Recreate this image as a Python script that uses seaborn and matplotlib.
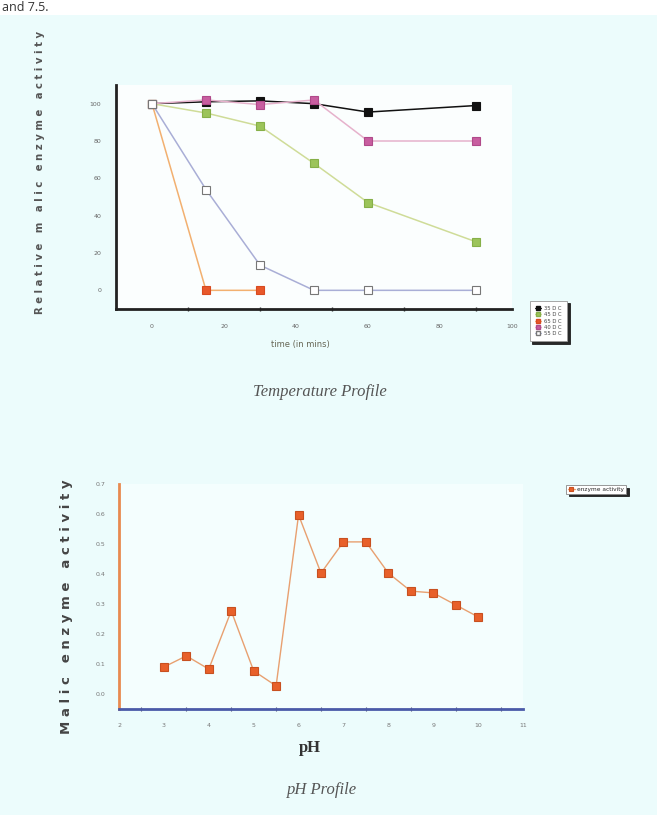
import numpy as np
import pandas as pd
import matplotlib
matplotlib.use("Agg")
import matplotlib.pyplot as plt
import seaborn as sns
from matplotlib.lines import Line2D

# ---------------- data ----------------
time_min = [0, 15, 30, 45, 60, 90]
series_labels = ["35 D C", "45 D C", "65 D C", "40 D C", "55 D C"]
act_black = [100, 101, 101.5, 100, 95.5, 99]
act_green = [100, 95, 88, 68, 47, 26]
act_orange = [100, 0, 0]
act_pink = [100, 102, 99.5, 102, 80, 80]
act_open = [100, 54, 13.5, 0, 0, 0]

ph_values = [3, 3.5, 4, 4.5, 5, 5.5, 6, 6.5, 7, 7.5, 8, 8.5, 9, 9.5, 10]
ph_activity = [0.09, 0.127, 0.083, 0.277, 0.077, 0.027, 0.597, 0.403,
               0.507, 0.507, 0.403, 0.343, 0.337, 0.297, 0.257]

temp_xticks = [0, 20, 40, 60, 80, 100]
temp_yticks = [0, 20, 40, 60, 80, 100]
ph_xticks = [2, 3, 4, 5, 6, 7, 8, 9, 10, 11]
ph_yticks = [0.0, 0.1, 0.2, 0.3, 0.4, 0.5, 0.6, 0.7]

# ---------------- figure ----------------
sns.set_theme(style="white")
plt.rcParams['font.family'] = ['DejaVu Sans']
W, H = 657, 815
fig = plt.figure(figsize=(W / 100, H / 100), dpi=100)
bg = "#ecfcfc"
fig.patch.set_facecolor(bg)

# white strip at the top with document text
fig.patches.append(plt.Rectangle((0, 1 - 15 / H), 1, 15 / H, transform=fig.transFigure,
                                 facecolor="white", edgecolor="none", zorder=0))
fig.text(2 / W, 1 - 1 / H, "and 7.5.", fontsize=9, family="Open Sans",
         color="#333333", va="top", ha="left")


def fx(px):
    return px / W


def fy(py):
    return 1 - py / H


# ---------------- top: temperature profile ----------------
ax1 = fig.add_axes([fx(116), fy(309), fx(512) - fx(116), fy(85) - fy(309)])
ax1.set_facecolor("#fbfefe")

styles = [
    (act_black, "#111111", "#111111", "#111111", series_labels[0]),
    (act_green, "#cfdc98", "#9cc45a", "#86b048", series_labels[1]),
    (act_orange, "#f2b070", "#e8582a", "#d84a20", series_labels[2]),
    (act_pink, "#e6b2cc", "#c85ea0", "#b04a8a", series_labels[3]),
    (act_open, "#a9aed6", "#ffffff", "#777777", series_labels[4]),
]
order = [2, 4, 1, 3, 0]
for i in order:
    vals, lc, fc, ec, lab = styles[i]
    df = pd.DataFrame({"time": time_min[:len(vals)], "act": vals})
    sns.lineplot(data=df, x="time", y="act", ax=ax1, color=lc, lw=1.1,
                 marker="s", markersize=6, markerfacecolor=fc,
                 markeredgecolor=ec, markeredgewidth=0.8, zorder=3 + i)

ax1.set_xlim(-10, 100)
ax1.set_ylim(-10, 110)
ax1.set_xticks(temp_xticks)
ax1.set_xticks([10, 30, 50, 70, 90], minor=True)
ax1.set_yticks(temp_yticks)
ax1.set_xticklabels([str(v) for v in temp_xticks], fontsize=4.5, color="#666666")
ax1.set_yticklabels([str(v) for v in temp_yticks], fontsize=4.5, color="#666666")
ax1.tick_params(axis="both", which="major", direction="inout", length=5, width=1.2,
                colors="#333333", labelcolor="#666666", pad=8)
ax1.tick_params(axis="x", which="minor", direction="inout", length=3, width=1,
                colors="#333333", bottom=True)
for s in ["top", "right"]:
    ax1.spines[s].set_visible(False)
for s in ["left", "bottom"]:
    ax1.spines[s].set_color("#222222")
    ax1.spines[s].set_linewidth(2)
ax1.set_xlabel("")
ax1.set_ylabel("")

fig.text(fx(300), fy(345), "time (in mins)", fontsize=6, color="#666655",
         ha="center", va="center")
fig.text(fx(40), fy(172), "R e l a t i v e   m   a l i c   e n z y m e   a c t i v i t y",
         rotation=90, fontsize=7.3, color="#555555", ha="center", va="center",
         fontweight="bold")

# legend for top plot
handles = []
for i in range(5):
    vals, lc, fc, ec, lab = styles[i]
    handles.append(Line2D([0], [0], color=lc, marker="s", markersize=3.5,
                          markerfacecolor=fc, markeredgecolor=ec, lw=0.8, label=lab))
leg1 = fig.legend(handles=handles, loc="upper left",
                  bbox_to_anchor=(fx(527), fy(298)), fontsize=3.8,
                  frameon=True, fancybox=False,
                  shadow={"color": "#111111", "alpha": 0.9},
                  handlelength=1.2, labelspacing=0.25, borderpad=1.0,
                  handletextpad=0.5)
leg1.get_frame().set_edgecolor("#999999")
leg1.get_frame().set_linewidth(0.6)
for t in leg1.get_texts():
    t.set_color("#444444")

fig.text(fx(320), fy(392), "Temperature Profile", fontsize=12, family="Liberation Serif",
         style="italic", color="#555555", ha="center", va="center")

# ---------------- bottom: pH profile ----------------
ax2 = fig.add_axes([fx(119), fy(709), fx(523) - fx(119), fy(484) - fy(709)])
ax2.set_facecolor("#f4fefe")
dfp = pd.DataFrame({"pH": ph_values, "activity": ph_activity})
sns.lineplot(data=dfp, x="pH", y="activity", ax=ax2, color="#e8a070", lw=1.0,
             marker="s", markersize=6, markerfacecolor="#e8602a",
             markeredgecolor="#c85020", markeredgewidth=0.8, label="enzyme activity")
ax2.set_xlim(2, 11)
ax2.set_ylim(-0.05, 0.7)
ax2.set_xticks(ph_xticks)
ax2.set_xticks([v + 0.5 for v in ph_xticks[:-1]], minor=True)
ax2.set_yticks(ph_yticks)
ax2.set_xticklabels([str(v) for v in ph_xticks], fontsize=4.5, color="#777777")
ax2.set_yticklabels([f"{v:.1f}" for v in ph_yticks], fontsize=4.5, color="#777777")
ax2.tick_params(axis="both", which="major", direction="inout", length=4, width=1,
                colors="#555577", labelcolor="#777777", pad=8)
ax2.tick_params(axis="x", which="minor", direction="inout", length=3, width=0.8,
                colors="#555577", bottom=True)
for s in ["top", "right"]:
    ax2.spines[s].set_visible(False)
ax2.spines["left"].set_color("#e88a50")
ax2.spines["left"].set_linewidth(2)
ax2.spines["bottom"].set_color("#4a5aa8")
ax2.spines["bottom"].set_linewidth(2)
ax2.set_xlabel("")
ax2.set_ylabel("")

leg2 = ax2.legend(loc="upper left", bbox_to_anchor=(fx(563), fy(482)),
                  bbox_transform=fig.transFigure, fontsize=4.2, frameon=True,
                  fancybox=False, shadow={"color": "#111111", "alpha": 0.9},
                  handlelength=1.2, borderpad=0.3,
                  handletextpad=0.4, markerscale=0.6)
leg2.get_frame().set_edgecolor("#888888")
leg2.get_frame().set_linewidth(0.6)

fig.text(fx(310), fy(748), "pH", fontsize=12, family="Liberation Serif",
         fontweight="bold", color="#333333", ha="center", va="center")
fig.text(fx(67), fy(607), "M a l i c   e n z y m e   a c t i v i t y",
         rotation=90, fontsize=9.5, color="#444444", ha="center", va="center",
         fontweight="bold")
fig.text(fx(322), fy(790), "pH Profile", fontsize=12, family="Liberation Serif",
         style="italic", color="#555555", ha="center", va="center")

fig.savefig("out.png", dpi=100, facecolor=fig.get_facecolor())
